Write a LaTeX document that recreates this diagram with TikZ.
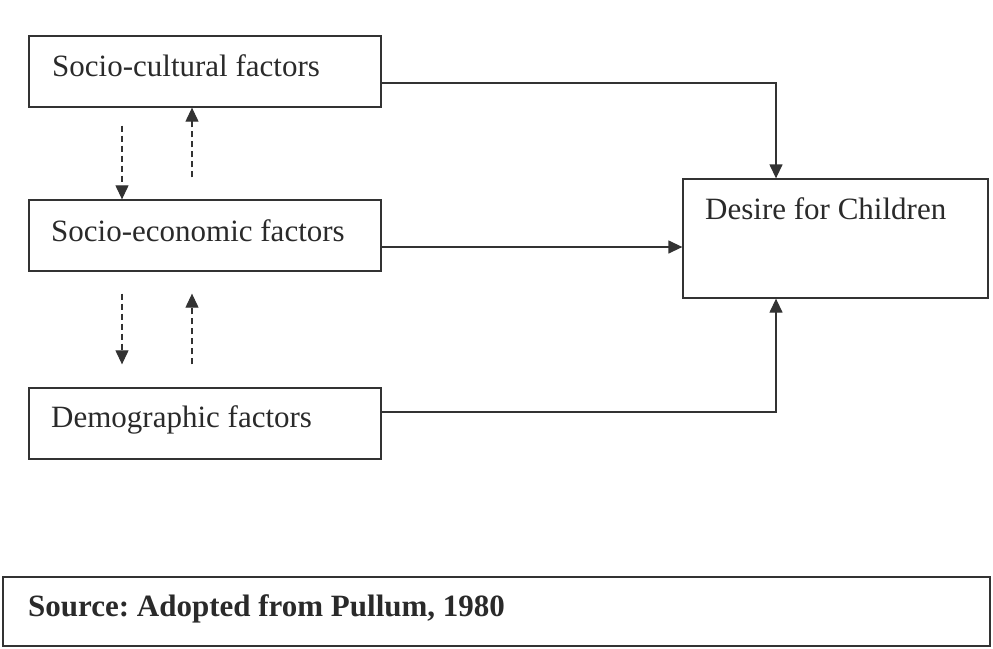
\documentclass[tikz,border=0pt]{standalone}
\usepackage{fontspec}
\setmainfont{Liberation Serif}
\usetikzlibrary{arrows.meta}
\definecolor{ink}{HTML}{333333}
\definecolor{txt}{HTML}{2A2A2A}
\frenchspacing
\tikzset{
  box/.style={draw=ink, line width=1.3pt, inner sep=0pt, rectangle},
  lbl/.style={anchor=base west, inner sep=0pt, text=txt, font=\fontsize{31}{34}\selectfont},
  conn/.style={draw=ink, line width=1.3pt, -{Triangle[length=14pt,width=13pt]}},
  dconn/.style={conn, line width=1.1pt, dash pattern=on 6pt off 4pt}
}
\begin{document}
\begin{tikzpicture}[x=1pt,y=-1pt]
\useasboundingbox (0,0) rectangle (993,648);
% boxes
\node[box, minimum width=352pt, minimum height=71pt] (sc) at (205,71.5) {};
\node[box, minimum width=352pt, minimum height=71pt] (se) at (205,235.5) {};
\node[box, minimum width=352pt, minimum height=71pt] (dm) at (205,423.5) {};
\node[box, minimum width=305pt, minimum height=119pt] (dc) at (835.5,238.5) {};
\node[box, minimum width=987pt, minimum height=69pt] (src) at (496.5,611.5) {};
% texts
\node[lbl] (tsc) at (52,76) {Socio-cultural factors};
\node[lbl] (tse) at (51,241) {Socio-economic factors};
\node[lbl] (tdm) at (51,427) {Demographic factors};
\node[lbl] (tdc) at (705,219) {Desire for Children};
\node[lbl, font=\fontsize{31}{34}\selectfont\bfseries] (tsrc) at (28,616) {Source: Adopted from Pullum, 1980};
% solid connectors
\draw[conn] ([yshift=-11.5pt]sc.east) -| ([xshift=-59.5pt]dc.north);
\draw[conn] ([yshift=-11.5pt]se.east) -- ([yshift=-8.5pt]dc.west);
\draw[conn] ([yshift=11.5pt]dm.east) -| ([xshift=-59.5pt]dc.south);
% dashed connectors
\draw[dconn] ([xshift=-83pt,yshift=-18pt]sc.south) -- ([xshift=-83pt]se.north);
\draw[dconn] ([xshift=-13pt,yshift=22pt]se.north) -- ([xshift=-13pt]sc.south);
\draw[dconn] ([xshift=-83pt,yshift=-22pt]se.south) -- ([xshift=-83pt,yshift=23pt]dm.north);
\draw[dconn] ([xshift=-13pt,yshift=23pt]dm.north) -- ([xshift=-13pt,yshift=-22pt]se.south);
\end{tikzpicture}
\end{document}
